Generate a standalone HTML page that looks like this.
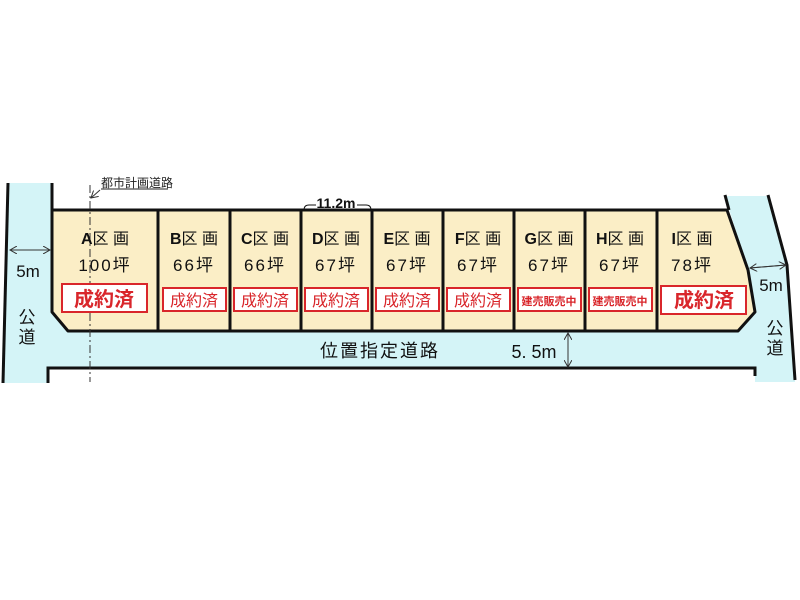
<!DOCTYPE html>
<html><head><meta charset="utf-8"><style>
html,body{margin:0;padding:0;background:#fff;}
svg{display:block;}
text{font-family:"Liberation Sans","Noto Sans CJK JP",sans-serif;}
</style></head><body>
<svg width="800" height="600" viewBox="0 0 800 600" xmlns="http://www.w3.org/2000/svg">
<defs>
<marker id="ah" markerWidth="8" markerHeight="8" refX="7" refY="4" orient="auto" markerUnits="userSpaceOnUse"><path d="M0,0 L7,4 L0,8" fill="none" stroke="#333" stroke-width="1"/></marker>
</defs>
<!-- roads fill -->
<path d="M8,183 L52,183 L52,368 L48,368 L48,383 L3,383 Z" fill="#d4f4f7"/>
<path d="M48,290 L760,290 L760,368 L48,368 Z" fill="#d4f4f7"/>
<path d="M725,196 L768,196 L787,265 L795,382 L755,382 L755,312 L748,270 Z" fill="#d4f4f7"/>
<!-- lots -->
<path d="M52,210 L727,210 L748,270 L755,312 L738,331 L68,331 L52,312 Z" fill="#fbeec6" stroke="#111" stroke-width="3" stroke-linejoin="round"/>
<g stroke="#111" stroke-width="3">
<line x1="158" y1="210" x2="158" y2="331"/><line x1="230" y1="210" x2="230" y2="331"/>
<line x1="301" y1="210" x2="301" y2="331"/><line x1="372" y1="210" x2="372" y2="331"/>
<line x1="443" y1="210" x2="443" y2="331"/><line x1="514" y1="210" x2="514" y2="331"/>
<line x1="585" y1="210" x2="585" y2="331"/><line x1="657" y1="210" x2="657" y2="331"/>
</g>
<!-- road lines -->
<g stroke="#111" stroke-width="3" fill="none">
<line x1="8" y1="183" x2="3" y2="383"/>
<line x1="52" y1="183" x2="52" y2="212"/>
<path d="M48,383 L48,368 L755,368 L755,376"/>
<path d="M725,195 L729,210"/>
<path d="M768,195 L787,265 L795,380"/>
</g>
<!-- city plan line -->
<line x1="90" y1="185" x2="90" y2="382" stroke="#333" stroke-width="1" stroke-dasharray="8,3,2,3"/>
<line x1="100" y1="190" x2="91" y2="198" stroke="#333" stroke-width="1" marker-end="url(#ah)"/>
<text x="101" y="187" font-size="12" fill="#222">都市計画道路</text>
<line x1="101" y1="189" x2="168" y2="189" stroke="#222" stroke-width="1"/>
<!-- 11.2m -->
<path d="M304,210 Q304,205 309,205 L316,205 M357,205 L366,205 Q371,205 371,210" stroke="#111" fill="none" stroke-width="1"/>
<text x="336" y="208" font-size="14" font-weight="bold" text-anchor="middle" fill="#111">11.2m</text>
<!-- labels -->
<g font-size="16" fill="#111" text-anchor="middle">
<text x="105" y="244"><tspan font-weight="bold">A</tspan>区 画</text>
<text x="194" y="244"><tspan font-weight="bold">B</tspan>区 画</text>
<text x="265" y="244"><tspan font-weight="bold">C</tspan>区 画</text>
<text x="336" y="244"><tspan font-weight="bold">D</tspan>区 画</text>
<text x="407" y="244"><tspan font-weight="bold">E</tspan>区 画</text>
<text x="478" y="244"><tspan font-weight="bold">F</tspan>区 画</text>
<text x="549" y="244"><tspan font-weight="bold">G</tspan>区 画</text>
<text x="620" y="244"><tspan font-weight="bold">H</tspan>区 画</text>
<text x="692" y="244"><tspan font-weight="bold">I</tspan>区 画</text>
<text x="105" y="271" font-size="17" letter-spacing="2">100坪</text>
<text x="194" y="271" font-size="17" letter-spacing="2">66坪</text>
<text x="265" y="271" font-size="17" letter-spacing="2">66坪</text>
<text x="336" y="271" font-size="17" letter-spacing="2">67坪</text>
<text x="407" y="271" font-size="17" letter-spacing="2">67坪</text>
<text x="478" y="271" font-size="17" letter-spacing="2">67坪</text>
<text x="549" y="271" font-size="17" letter-spacing="2">67坪</text>
<text x="620" y="271" font-size="17" letter-spacing="2">67坪</text>
<text x="692" y="271" font-size="17" letter-spacing="2">78坪</text>
</g>
<!-- status boxes -->
<g fill="#fff" stroke="#d9262b" stroke-width="2">
<rect x="62" y="284" width="85" height="28"/>
<rect x="163" y="288" width="63" height="23"/>
<rect x="234" y="288" width="63" height="23"/>
<rect x="305" y="288" width="63" height="23"/>
<rect x="376" y="288" width="63" height="23"/>
<rect x="447" y="288" width="63" height="23"/>
<rect x="518" y="288" width="63" height="23"/>
<rect x="589" y="288" width="63" height="23"/>
<rect x="661" y="286" width="85" height="28"/>
</g>
<g fill="#d9262b" text-anchor="middle">
<text x="104" y="306" font-size="20" font-weight="bold">成約済</text>
<text x="194" y="306" font-size="16">成約済</text>
<text x="265" y="306" font-size="16">成約済</text>
<text x="336" y="306" font-size="16">成約済</text>
<text x="407" y="306" font-size="16">成約済</text>
<text x="478" y="306" font-size="16">成約済</text>
<text x="549" y="305" font-size="11" font-weight="bold">建売販売中</text>
<text x="620" y="305" font-size="11" font-weight="bold">建売販売中</text>
<text x="704" y="307" font-size="20" font-weight="bold">成約済</text>
</g>
<!-- dims -->
<line x1="10" y1="250" x2="50" y2="250" stroke="#333" stroke-width="1" marker-end="url(#ah)"/>
<line x1="50" y1="250" x2="10" y2="250" stroke="#333" stroke-width="1" marker-end="url(#ah)"/>
<text x="28" y="277" font-size="17" text-anchor="middle" fill="#111">5m</text>
<text x="27" y="323" font-size="17" text-anchor="middle" fill="#111">公</text>
<text x="27" y="343" font-size="17" text-anchor="middle" fill="#111">道</text>
<line x1="750" y1="268" x2="786" y2="265" stroke="#333" stroke-width="1" marker-end="url(#ah)"/>
<line x1="786" y1="265" x2="750" y2="268" stroke="#333" stroke-width="1" marker-end="url(#ah)"/>
<text x="771" y="291" font-size="17" text-anchor="middle" fill="#111">5m</text>
<text x="775" y="334" font-size="17" text-anchor="middle" fill="#111">公</text>
<text x="775" y="354" font-size="17" text-anchor="middle" fill="#111">道</text>
<text x="380" y="357" font-size="18" text-anchor="middle" fill="#111" letter-spacing="2">位置指定道路</text>
<text x="534" y="358" font-size="18" text-anchor="middle" fill="#111">5. 5m</text>
<line x1="568" y1="333" x2="568" y2="367" stroke="#333" stroke-width="1" marker-end="url(#ah)"/>
<line x1="568" y1="367" x2="568" y2="333" stroke="#333" stroke-width="1" marker-end="url(#ah)"/>
</svg>
</body></html>
